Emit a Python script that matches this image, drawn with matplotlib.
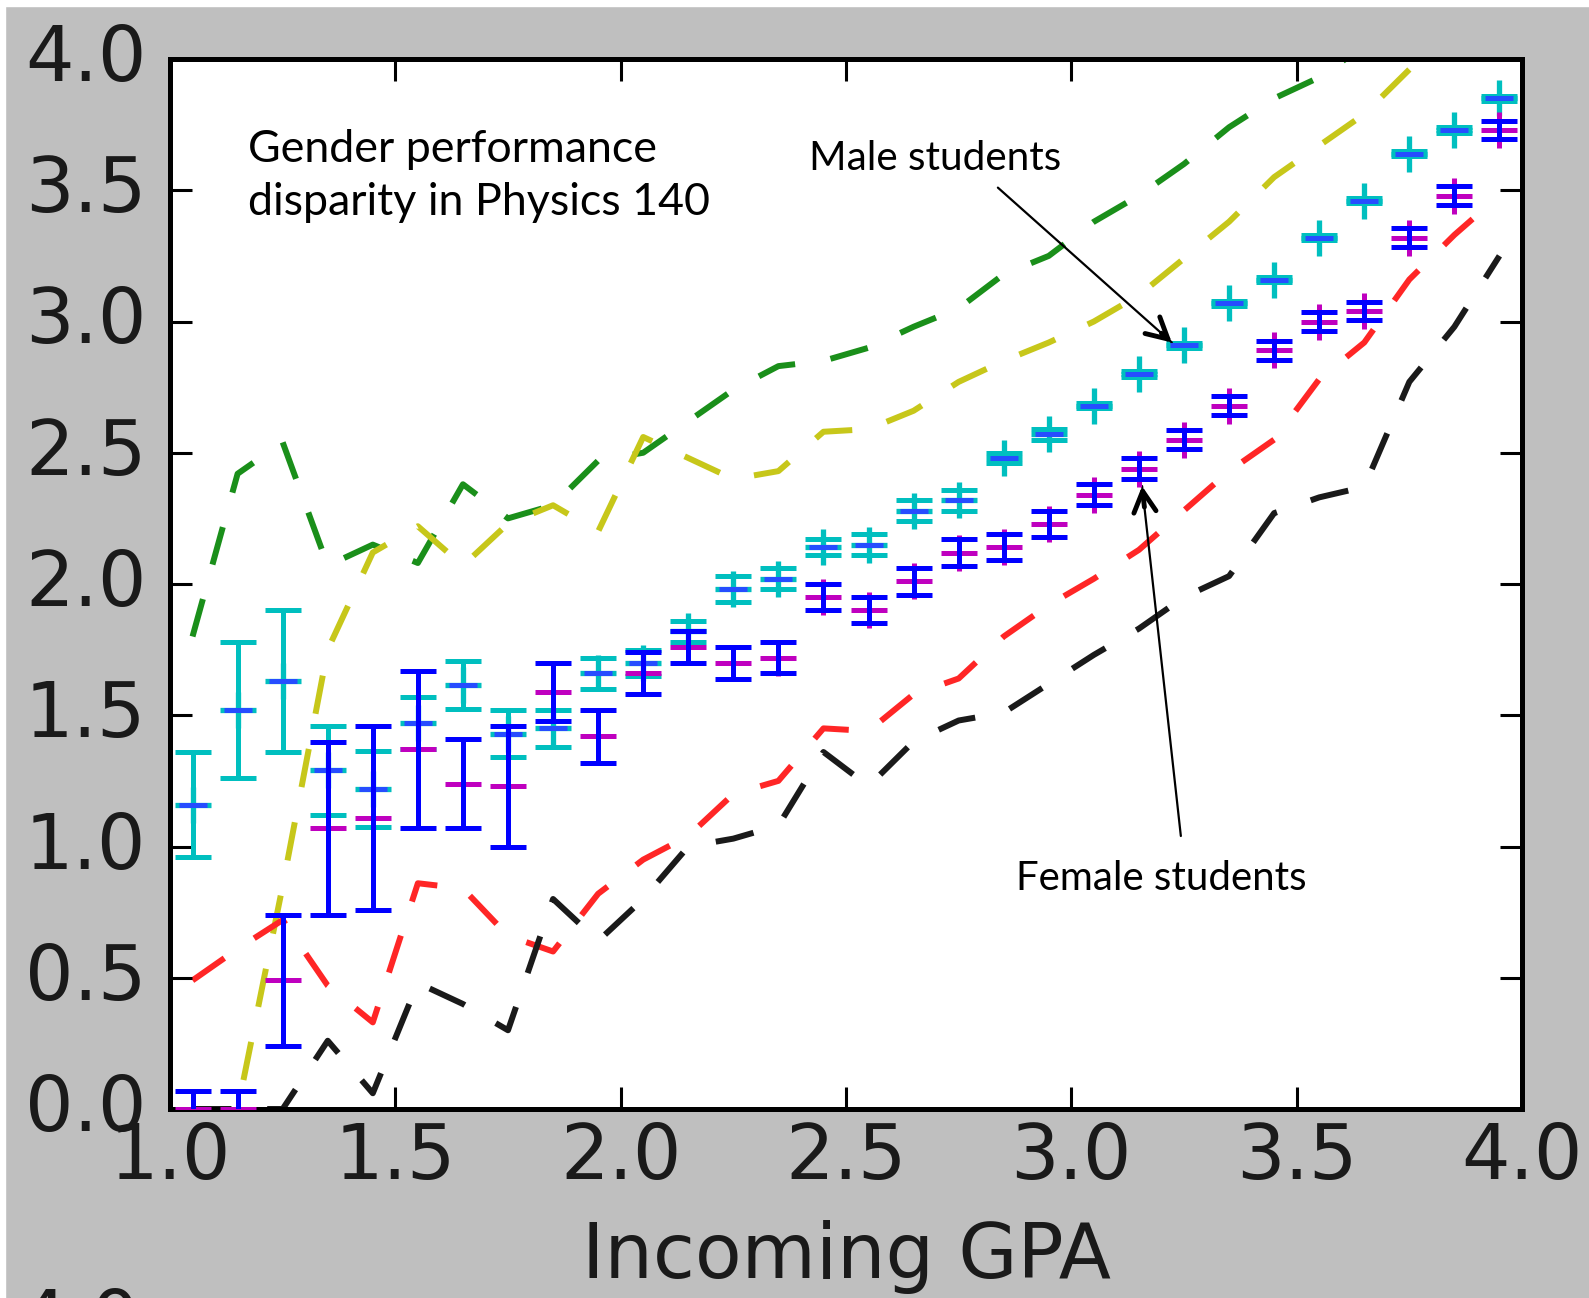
import matplotlib
matplotlib.use("Agg")
import matplotlib.pyplot as plt
from matplotlib.patches import Rectangle
from matplotlib.transforms import ScaledTranslation

# bin centres of incoming GPA
gpa = [1.05, 1.15, 1.25, 1.35, 1.45, 1.55, 1.65, 1.75, 1.85, 1.95,
       2.05, 2.15, 2.25, 2.35, 2.45, 2.55, 2.65, 2.75, 2.85, 2.95,
       3.05, 3.15, 3.25, 3.35, 3.45, 3.55, 3.65, 3.75, 3.85, 3.95]

# mean grade per bin (male / female) and their errors
male = [1.16, 1.52, 1.63, 1.29, 1.22, 1.47, 1.615, 1.43, 1.45, 1.66,
        1.70, 1.82, 1.98, 2.02, 2.14, 2.15, 2.28, 2.32, 2.48, 2.57,
        2.68, 2.80, 2.91, 3.07, 3.16, 3.32, 3.46, 3.64, 3.73, 3.85]
male_err = [0.20, 0.26, 0.27, 0.17, 0.145, 0.10, 0.09, 0.09, 0.07, 0.06,
            0.05, 0.04, 0.05, 0.04, 0.03, 0.04, 0.04, 0.04, 0.02, 0.02,
            0.01, 0.01, 0.01, 0.01, 0.01, 0.01, 0.01, 0.01, 0.01, 0.01]
female = [0.0, 0.0, 0.49, 1.07, 1.11, 1.37, 1.24, 1.23, 1.59, 1.42,
          1.66, 1.76, 1.70, 1.72, 1.95, 1.90, 2.01, 2.12, 2.14, 2.23,
          2.34, 2.44, 2.55, 2.68, 2.89, 3.00, 3.04, 3.32, 3.48, 3.73]
female_err = [0.07, 0.07, 0.25, 0.33, 0.35, 0.30, 0.17, 0.23, 0.11, 0.10,
              0.08, 0.06, 0.06, 0.06, 0.05, 0.05, 0.05, 0.05, 0.05, 0.05,
              0.04, 0.04, 0.035, 0.035, 0.035, 0.035, 0.035, 0.035, 0.035, 0.035]

# dashed reference curves
green = [1.80, 2.42, 2.54, 2.07, 2.15, 2.08, 2.38, 2.25, 2.30, 2.47,
         2.50, 2.62, 2.74, 2.83, 2.85, 2.90, 2.98, 3.05, 3.18, 3.25,
         3.38, 3.48, 3.60, 3.74, 3.85, 3.93, 4.05, 4.15, 4.30, 4.40]
yellow = [0.0, 0.0, 0.85, 1.75, 2.12, 2.22, 2.07, 2.23, 2.30, 2.20,
          2.56, 2.48, 2.40, 2.43, 2.58, 2.59, 2.66, 2.77, 2.85, 2.92,
          3.00, 3.10, 3.24, 3.38, 3.55, 3.67, 3.79, 3.96, 4.10, 4.20]
red = [0.49, 0.61, 0.72, 0.47, 0.33, 0.86, 0.84, 0.66, 0.60, 0.82,
       0.95, 1.04, 1.20, 1.25, 1.45, 1.44, 1.58, 1.64, 1.80, 1.92,
       2.02, 2.13, 2.28, 2.43, 2.55, 2.78, 2.92, 3.16, 3.33, 3.48]
black = [0.0, 0.0, 0.0, 0.26, 0.06, 0.48, 0.40, 0.30, 0.80, 0.64,
         0.80, 1.00, 1.03, 1.08, 1.36, 1.23, 1.40, 1.48, 1.51, 1.62,
         1.73, 1.83, 1.95, 2.03, 2.27, 2.33, 2.37, 2.77, 2.98, 3.25]

ticks = [0.0, 0.5, 1.0, 1.5, 2.0, 2.5, 3.0, 3.5, 4.0]
tick_labels = ["%.1f" % t for t in ticks]

W, H = 1589, 1298
fig = plt.figure(figsize=(W / 100, H / 100), dpi=100, facecolor="#bfbfbf")
# thin white border of the screenshot
fig.patches.append(Rectangle((0, 0), 5 / W, 1, transform=fig.transFigure, color="white", zorder=0))
fig.patches.append(Rectangle((0, 1 - 6 / H), 1, 6 / H, transform=fig.transFigure, color="white", zorder=0))

ax = fig.add_axes([170 / W, 1 - 1109 / H, (1522 - 170) / W, (1109 - 59) / H])

dash_kw = dict(lw=4.3, dashes=(6.5, 6))
ax.plot(gpa, green, color=(0.1, 0.56, 0.1), zorder=1, **dash_kw)
ax.plot(gpa, yellow, color=(0.78, 0.78, 0.1), zorder=1, **dash_kw)
ax.plot(gpa, red, color=(1, 0.15, 0.15), zorder=1, **dash_kw)
ax.plot(gpa, black, color=(0.1, 0.1, 0.1), zorder=1, **dash_kw)

# male: cyan + with cyan error bars, short blue bar at the centre
ax.plot(gpa, male, "+", color="c", ms=26, mew=3.8, zorder=2)
ax.errorbar(gpa, male, yerr=male_err, fmt="none", ecolor="c",
            elinewidth=3.6, capsize=13, capthick=3.6, zorder=3)
ax.plot(gpa, male, "_", color=(0.15, 0.3, 1), ms=20, mew=3.6, zorder=3.5)
# female: magenta + markers under blue error bars
ax.plot(gpa, female, "+", color="m", ms=26, mew=3.6, zorder=4)
ax.errorbar(gpa, female, yerr=female_err, fmt="none", ecolor="b",
            elinewidth=3.6, capsize=13, capthick=3.6, zorder=5)

ax.set_xlim(1, 4)
ax.set_ylim(0, 4)
ax.set_xticks(ticks[2:])
ax.set_xticklabels(tick_labels[2:])
ax.set_yticks(ticks)
ax.set_yticklabels(tick_labels)
ax.tick_params(direction="in", length=16, width=2.2, top=True, right=True,
               labelsize=55, labelcolor="#1a1a1a")
ax.tick_params(axis="y", pad=17)
ax.tick_params(axis="x", pad=9)
up = ScaledTranslation(0, 7 / 100, fig.dpi_scale_trans)
for lab in ax.get_yticklabels():
    lab.set_transform(lab.get_transform() + up)
for s in ax.spines.values():
    s.set_linewidth(3.6)
ax.set_xlabel("Incoming GPA", fontsize=55, labelpad=18, color="#1a1a1a")

txt_font = "Lato"
ax.text(1.173, 3.607, "Gender performance", fontsize=32.2, family=txt_font, va="baseline")
ax.text(1.173, 3.406, "disparity in Physics 140", fontsize=32.2, family=txt_font, va="baseline")
ax.text(2.418, 3.577, "Male students", fontsize=29.2, family=txt_font, va="baseline")
ax.text(2.877, 0.834, "Female students", fontsize=29.0, family=txt_font, va="baseline")

arrows = [((2.837, 3.51), (3.223, 2.92)), ((3.243, 1.04), (3.157, 2.373))]
for tail, tip in arrows:
    ax.annotate("", xy=tip, xytext=tail,
                arrowprops=dict(arrowstyle="-", lw=1.6, color="k", shrinkA=0, shrinkB=0))
    near = (tip[0] + 0.06 * (tail[0] - tip[0]), tip[1] + 0.06 * (tail[1] - tip[1]))
    ax.annotate("", xy=tip, xytext=near,
                arrowprops=dict(arrowstyle="->,head_length=0.75,head_width=0.4", lw=3.5,
                                color="k", shrinkA=0, shrinkB=0, mutation_scale=20))

# top of the next panel's tick label, cut off by the frame
fig.text(140 / W, 1 - 1287 / H, "4.0", fontsize=55, ha="right", va="top", color="#1a1a1a")

fig.savefig("out.png", dpi=100, facecolor=fig.get_facecolor())
